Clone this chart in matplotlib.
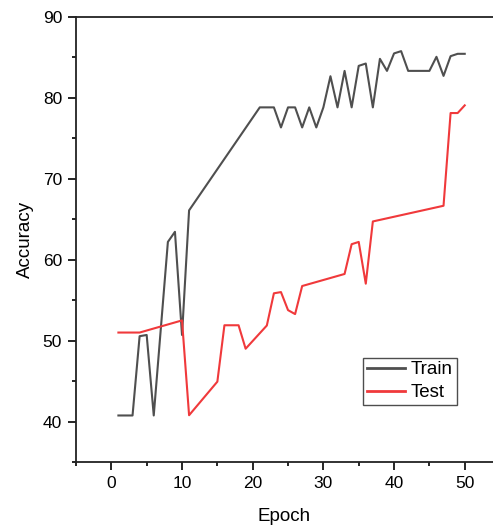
import matplotlib
matplotlib.use("Agg")
import matplotlib.pyplot as plt
from matplotlib.ticker import MultipleLocator

plt.rcParams['font.family'] = ['Liberation Sans', 'DejaVu Sans']

train_epochs = [1, 2, 3, 4, 5, 6, 8, 9, 10, 11, 21, 22, 23, 24, 25, 26, 27, 28, 29, 30,
                31, 32, 33, 34, 35, 36, 37, 38, 39, 40, 41, 42, 43, 44, 45, 46, 47, 48, 49, 50]
train_acc = [40.75, 40.75, 40.75, 50.55, 50.7, 40.75, 62.2, 63.45, 50.7, 66.1, 78.83, 78.83, 78.83,
             76.35, 78.83, 78.83, 76.35, 78.83, 76.35, 78.83, 82.68, 78.83, 83.34, 78.83, 83.96,
             84.25, 78.83, 84.83, 83.34, 85.5, 85.78, 83.34, 83.34, 83.34, 83.34, 85.08, 82.72,
             85.16, 85.45, 85.45]

test_epochs = [1, 2, 3, 4, 10, 11, 15, 16, 17, 18, 19, 22, 23, 24, 25, 26, 27, 33, 34, 35, 36,
               37, 47, 48, 49, 50]
test_acc = [51.0, 51.0, 51.0, 51.0, 52.5, 40.78, 44.93, 51.9, 51.9, 51.9, 49.0, 51.87, 55.85, 56.0,
            53.77, 53.28, 56.75, 58.24, 61.92, 62.2, 57.04, 64.73, 66.67, 78.13, 78.13, 79.08]

x_ticks = [0, 10, 20, 30, 40, 50]
y_ticks = [40, 50, 60, 70, 80, 90]

fig = plt.figure(figsize=(4.93, 5.27), dpi=100)
ax = fig.add_axes([76/493, 1 - 462/527, 1 - 76/493, (462 - 17)/527])

ax.plot(train_epochs, train_acc, color='#4f4f4f', lw=1.5, label='Train')
ax.plot(test_epochs, test_acc, color='#f0393b', lw=1.5, label='Test')

ax.set_xlim(-5, 54)
ax.set_ylim(35, 90)
ax.set_xticks(x_ticks)
ax.set_yticks(y_ticks)
ax.xaxis.set_minor_locator(MultipleLocator(5))
ax.yaxis.set_minor_locator(MultipleLocator(5))
ax.tick_params(which='major', direction='out', length=6, width=1.2, labelsize=12.5, pad=4)
ax.tick_params(which='minor', direction='out', length=3, width=1.2)
ax.spines['right'].set_visible(False)
for s in ['left', 'bottom', 'top']:
    ax.spines[s].set_linewidth(1.3)
    ax.spines[s].set_color('#222222')

ax.set_xlabel('Epoch', fontsize=13.5, labelpad=12)
ax.set_ylabel('Accuracy', fontsize=13.5, labelpad=6)

leg = ax.legend(loc='lower left', bbox_to_anchor=((363 - 76)/417, (462 - 405)/445),
                fontsize=13.5, frameon=True, fancybox=False, borderpad=0.2,
                handlelength=2.05, handletextpad=0.3, labelspacing=0.3, borderaxespad=0)
leg.get_frame().set_edgecolor('#222222')
leg.get_frame().set_linewidth(1.0)
for h in leg.get_lines():
    h.set_linewidth(2.0)

fig.savefig('out.png', dpi=100)
